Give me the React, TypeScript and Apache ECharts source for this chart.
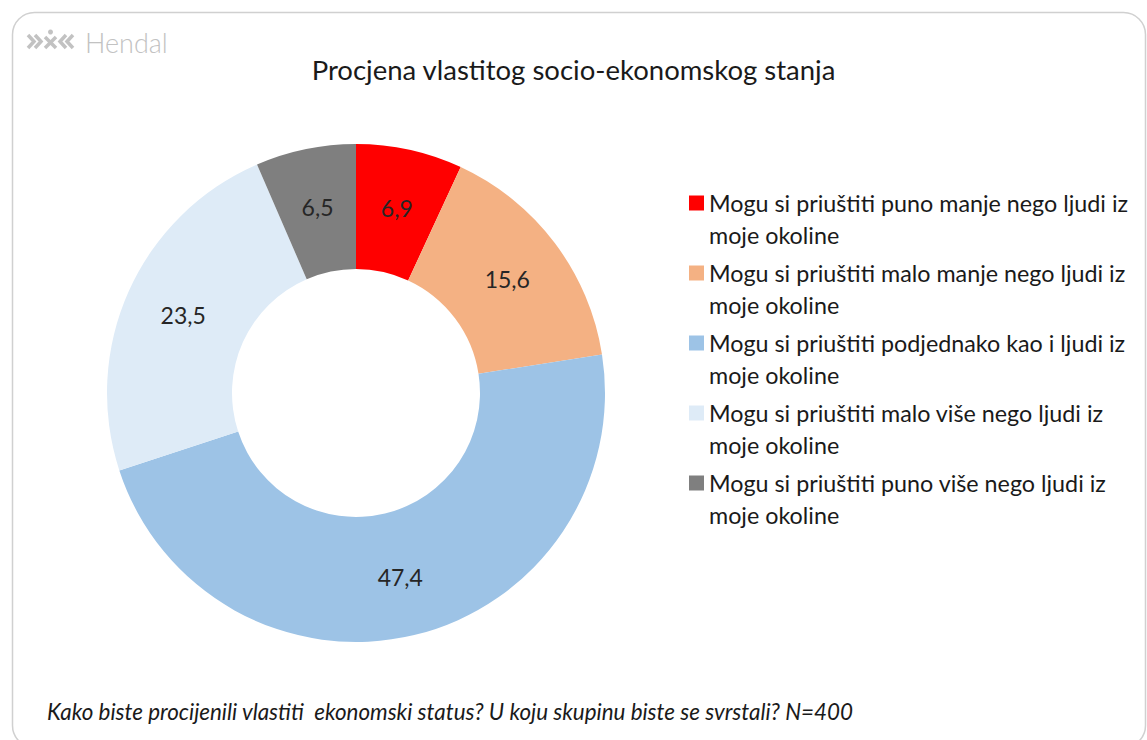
import React, { useEffect, useRef } from "react";
import * as echarts from "echarts";

const categories = [
  "Mogu si priuštiti puno manje nego ljudi iz moje okoline",
  "Mogu si priuštiti malo manje nego ljudi iz moje okoline",
  "Mogu si priuštiti podjednako kao i ljudi iz moje okoline",
  "Mogu si priuštiti malo više nego ljudi iz moje okoline",
  "Mogu si priuštiti puno više nego ljudi iz moje okoline",
];
const values = [6.9, 15.6, 47.4, 23.5, 6.5];
const colors = ["#FF0000", "#F4B183", "#9DC3E6", "#DEEBF7", "#7F7F7F"];
const titleText = "Procjena vlastitog socio-ekonomskog stanja";
const footerText =
  "Kako biste procijenili vlastiti  ekonomski status? U koju skupinu biste se svrstali? N=400";
const logoText = "Hendal";

const FONT = "Lato, 'Open Sans', sans-serif";

export default function App() {
  const ref = useRef<HTMLDivElement>(null);
  useEffect(() => {
    if (!ref.current) return;
    const chart = echarts.init(ref.current, null, { renderer: "svg" });
    const gray = "#c2c2c2";
    const option: any = {
      animation: false,
      backgroundColor: "#ffffff",
      title: {
        text: titleText,
        left: "center",
        top: 50,
        textStyle: { fontFamily: FONT, fontSize: 27.5, fontWeight: "normal", color: "#1a1a1a" },
      },
      legend: {
        orient: "vertical",
        left: 684,
        top: 150,
        itemWidth: 15,
        itemHeight: 15,
        itemGap: -26,
        icon: "rect",
        formatter: (name: string) => "{t|}\n{t|" + name.replace(" moje", "}\n{t|moje") + "}",
        textStyle: {
          fontFamily: FONT,
          fontSize: 23.3,
          color: "#1a1a1a",
          lineHeight: 32,
          rich: {
            t: { fontFamily: FONT, fontSize: 23.3, color: "#1a1a1a", lineHeight: 32, height: 32 },
          },
        },
        data: categories,
      },
      graphic: [
        {
          type: "rect",
          shape: { x: 12.5, y: 12.5, width: 1133, height: 735, r: 22 },
          style: { fill: "none", stroke: "#d0d0d0", lineWidth: 1.5 },
          silent: true,
        },
        {
          type: "group",
          children: [
            { type: "polyline", shape: { points: [[28, 35], [34, 41.5], [28, 48]] }, style: { stroke: gray, lineWidth: 3.5, fill: "none" } },
            { type: "polyline", shape: { points: [[35, 35], [41, 41.5], [35, 48]] }, style: { stroke: gray, lineWidth: 3.5, fill: "none" } },
            { type: "line", shape: { x1: 45, y1: 37, x2: 56, y2: 48 }, style: { stroke: gray, lineWidth: 3.5 } },
            { type: "line", shape: { x1: 56, y1: 37, x2: 45, y2: 48 }, style: { stroke: gray, lineWidth: 3.5 } },
            { type: "circle", shape: { cx: 50.5, cy: 32, r: 2.5 }, style: { fill: gray } },
            { type: "polyline", shape: { points: [[66, 35], [60, 41.5], [66, 48]] }, style: { stroke: gray, lineWidth: 3.5, fill: "none" } },
            { type: "polyline", shape: { points: [[73, 35], [67, 41.5], [73, 48]] }, style: { stroke: gray, lineWidth: 3.5, fill: "none" } },
          ],
        },
        {
          type: "text",
          left: 85,
          top: 29,
          style: { text: logoText, fontFamily: FONT, fontSize: 27, fontWeight: 300, fill: gray },
        },
        {
          type: "text",
          left: 47,
          top: 700,
          style: {
            text: footerText,
            fontFamily: FONT,
            fontSize: 22.4,
            fontStyle: "italic",
            fill: "#1a1a1a",
          },
        },
      ],
      series: [
        {
          type: "pie",
          center: [356, 393],
          radius: [124, 249],
          startAngle: 90,
          clockwise: true,
          label: {
            show: true,
            position: "inside",
            fontFamily: FONT,
            fontSize: 23,
            color: "#262626",
            formatter: (p: any) => String(p.value).replace(".", ","),
          },
          labelLine: { show: false },
          emphasis: { disabled: true },
          itemStyle: { borderWidth: 0 },
          data: categories.map((name, i) => ({
            name,
            value: values[i],
            itemStyle: { color: colors[i] },
          })),
        },
      ],
    };
    chart.setOption(option);
    return () => chart.dispose();
  }, []);
  return (
    <div
      ref={ref}
      style={{ position: "fixed", left: 0, top: 0, width: 1147, height: 740 }}
    />
  );
}
